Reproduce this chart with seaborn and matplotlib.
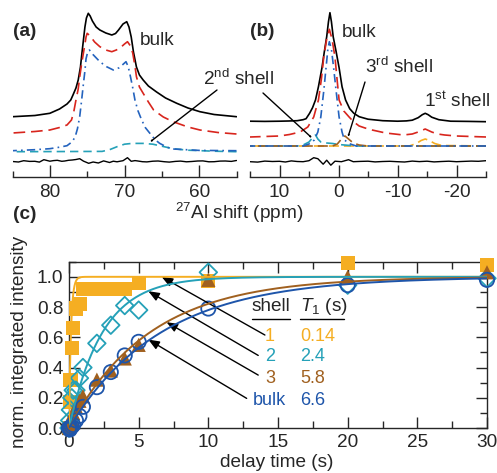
import numpy as np
import pandas as pd
import matplotlib
matplotlib.use("Agg")
import matplotlib.pyplot as plt
import seaborn as sns
from matplotlib.ticker import MultipleLocator

# ---------------- panel (a): 27Al spectra, heights above each trace baseline
a_exp_ppm = [85.0, 82.0, 80.0, 78.7, 77.7, 77.2, 76.9, 76.5, 76.2, 75.9, 75.7, 75.5,
             75.3, 75.1, 74.85, 74.6, 74.3, 73.8, 73.3, 72.5, 71.7, 71.2, 70.8, 70.2,
             69.7, 69.4, 69.1, 68.8, 68.4, 68.0, 67.5, 66.8, 65.7, 64.5, 63.0, 61.5,
             59.9, 58.0, 55.0]
a_exp = [0.3, 1.5, 3.7, 8, 13, 17, 22, 29, 37, 50, 64, 77,
         90, 99, 103.7, 101, 96, 90, 87, 84, 82, 83.5, 87, 93,
         95.3, 90, 80, 65, 50, 42, 37, 31, 25, 19, 13.7, 9,
         5.3, 2.5, 0.3]

a_fit_ppm = [85.0, 82.0, 80.0, 78.7, 77.7, 77.1, 76.8, 76.5, 76.2, 76.0, 75.75, 75.5,
             75.3, 75.15, 75.0, 74.6, 74.0, 73.3, 72.5, 71.7, 71.1, 70.6, 70.0, 69.6,
             69.2, 68.9, 68.6, 68.4, 68.0, 67.5, 66.8, 66.1, 64.8, 63.5, 61.5, 59.9,
             57.5, 55.0]
a_fit = [1, 2.5, 4, 6.5, 9, 14, 22, 34, 45, 57, 70, 81,
         90, 97, 100.7, 98, 92, 87.3, 84, 82.3, 84, 86, 90, 92.3,
         88, 81, 68, 57.3, 47, 40.7, 32, 24, 17, 12.3, 7, 4,
         1.5, 0]

a_bulk_ppm = [85.0, 82.0, 80.0, 78.7, 77.7, 77.0, 76.6, 76.3, 76.0, 75.75, 75.5, 75.3,
              75.15, 74.95, 74.7, 74.2, 73.3, 72.4, 71.5, 70.7, 70.1, 69.8, 69.5, 69.2,
              68.9, 68.6, 68.2, 67.7, 67.2, 66.6, 65.9, 65.3, 64.3, 63.5, 60.0, 55.0]
a_bulk = [0, 1, 2, 3.5, 5, 9, 14, 22, 34, 50, 67, 80,
          92, 98, 100.7, 96, 89, 84, 80.7, 83, 87, 89, 84, 74,
          63, 50.7, 40, 30.7, 23, 17.4, 11, 7.4, 3.5, 1.7, 0.3, 0]

a_shell2_ppm = [85.0, 73.0, 72.0, 71.0, 70.0, 69.0, 67.5, 66.2, 65.0, 63.5, 61.5, 58.0, 55.0]
a_shell2 = [0, 0.3, 2, 5, 7.5, 8.3, 8.3, 7.5, 5.5, 3, 1.5, 0.5, 0]

a_res_ppm = [85.0, 84.2, 83.5, 82.7, 82.0, 81.4, 80.8, 80.0, 79.5, 79.0, 78.4, 78.0,
             77.5, 77.0, 76.5, 76.0, 75.5, 74.8, 74.2, 73.5, 72.8, 72.0, 71.5, 71.0,
             70.5, 70.2, 69.6, 69.1, 68.6, 68.3, 67.6, 67.0, 66.2, 65.5, 64.7, 64.0,
             63.2, 62.5, 61.7, 61.0, 60.2, 59.5, 58.7, 58.0, 57.2, 56.5, 55.7, 55.0]
a_res = [0, -0.5, 0.8, 0.1, 0.2, -0.6, 1.8, 0.3, 0.9, 1.2, 0.2, 0.5,
         1.2, 1.5, 2.0, 2.8, 0.4, -1.8, -0.5, -1.5, 0.6, -1.0, 0.3, -0.3,
         0.4, 0.8, 3.8, 0.2, 0.9, 0.6, -0.2, -0.4, 0.3, 0.5, -0.2, -0.6,
         0.1, 0.4, -0.3, 0.0, 0.5, 0.6, -0.3, -0.2, 0.4, 0.5, 0.1, 1.0]

# ---------------- panel (b)
b_exp_ppm = [15.0, 12.5, 10.0, 8.5, 7.0, 6.0, 5.5, 4.9, 4.4, 3.9, 3.4, 2.8,
             2.4, 2.0, 1.7, 1.45, 1.2, 0.9, 0.4, -0.1, -0.6, -1.2, -1.9, -2.6,
             -3.5, -5.0, -7.5, -10.0, -11.5, -12.5, -13.5, -14.2, -14.7, -15.2, -15.8, -17.0,
             -19.0, -22.0, -25.0]
b_exp = [0.5, 0.3, 0.5, 0.7, 1, 2, 3, 8.4, 14, 21.7, 35, 54,
         70, 85, 100, 109, 100, 85, 70, 54, 35, 21.7, 13, 8.4,
         5, 2.5, 1, 0.5, 0.8, 1.5, 4, 7, 8.4, 7, 4.5, 2,
         0.5, 0.3, 0]

b_fit_ppm = [15.0, 10.0, 8.3, 6.5, 5.2, 4.2, 3.4, 2.9, 2.5, 2.0, 1.55, 1.1,
             0.6, 0.2, -0.1, -0.9, -1.8, -2.6, -3.5, -4.5, -5.7, -8.0, -11.0, -12.5,
             -13.5, -14.7, -15.8, -16.8, -18.0, -20.0, -25.0]
b_fit = [0, 1, 2.5, 5, 10, 20, 37, 58, 80, 98, 107.7, 98,
         80, 55, 37, 26, 20, 15, 11, 9, 7, 4, 2, 3,
         5, 8, 5, 3, 2, 1, 0]

b_bulk_ppm = [15.0, 6.0, 5.0, 4.1, 3.5, 3.0, 2.5, 2.1, 1.8, 1.55, 1.2, 0.84,
              0.4, -0.1, -0.6, -1.0, -2.0, -3.0, -25.0]
b_bulk = [0, 0, 2, 6, 14, 29, 55, 79, 97, 104.3, 97, 79,
          55, 29, 14, 6, 2, 0, 0]

b_shell2_ppm = [15.0, 7.0, 6.0, 5.0, 4.3, 3.9, 3.5, 3.0, 2.0, 1.0, 0.0, -1.0, -3.0, -25.0]
b_shell2 = [0, 0, 1, 4, 9, 11, 7, 4, 3, 2.5, 1.5, 1, 0, 0]

b_shell3_ppm = [15.0, 1.0, 0.2, -0.5, -1.1, -1.7, -2.5, -3.5, -5.0, -25.0]
b_shell3 = [0, 0, 2, 7, 10, 7, 3, 1, 0, 0]

b_shell1_ppm = [15.0, -12.0, -13.2, -14.0, -14.7, -15.4, -16.3, -17.5, -25.0]
b_shell1 = [0, 0, 2.5, 5.5, 7, 5.5, 2.5, 0.5, 0]

b_res_ppm = [15.0, 13.7, 12.5, 11.2, 10.0, 9.0, 8.0, 7.0, 6.0, 5.0, 4.2, 3.5,
             2.6, 2.0, 1.3, 0.6, -0.5, -1.7, -2.5, -3.7, -5.0, -6.2, -7.5, -8.7,
             -10.0, -11.2, -12.5, -13.7, -15.0, -16.2, -17.5, -18.7, -20.0, -21.2, -22.5, -23.7,
             -25.0]
b_res = [0, -0.4, 0.6, 0.2, 0.4, -0.3, 0.8, 0.2, 0, 1, 4, 3,
         -2.5, 1.5, -3.5, 0.5, 0, 2, 0, 0.3, 0.5, -0.2, 0.2, 0.4,
         0, -0.3, 0.6, 0.1, 0.5, -0.2, 0.2, 0.5, 0, 0.3, 0.6, 0.4,
         1]

# ---------------- panel (c): T1 recovery
delay = [0, 0.05, 0.1, 0.2, 0.3, 0.5, 0.75, 1, 2, 3, 4, 5, 10, 20, 30]
shell1_int = [0.0, 0.17, 0.32, 0.53, 0.66, 0.79, 0.82, 0.92, 0.92, 0.92, 0.92, 0.96, 0.97, 1.09, 1.08]
shell2_int = [0.0, 0.05, 0.12, 0.2, 0.25, 0.25, 0.33, 0.40, 0.56, 0.68, 0.81, 0.78, 1.03, 0.945, 0.99]
shell3_int = [0.0, 0.02, 0.04, 0.06, 0.1, 0.14, 0.18, 0.21, 0.32, 0.38, 0.46, 0.55, 0.98, 1.0, 1.03]
bulk_int = [0.0, -0.01, 0.0, 0.01, 0.02, 0.05, 0.08, 0.14, 0.27, 0.37, 0.48, 0.57, 0.79, 0.945, 0.98]

shell_names = ["1", "2", "3", "bulk"]
t1_values = [0.14, 2.4, 5.8, 6.6]
t1_labels = ["0.14", "2.4", "5.8", "6.6"]

# ---------------- style
W, H, DPI = 497, 473, 100
sns.set_theme(style="ticks")
plt.rcParams["font.family"] = ["Liberation Sans", "DejaVu Sans"]
plt.rcParams["mathtext.fontset"] = "custom"
plt.rcParams["mathtext.rm"] = "Liberation Sans"
plt.rcParams["mathtext.it"] = "Liberation Sans:italic"
plt.rcParams["axes.linewidth"] = 1.0
plt.rcParams["axes.unicode_minus"] = False

C_ORANGE = "#F5AE22"
C_CYAN = "#25A1B8"
C_BROWN = "#A0601F"
C_BLUE = "#1E55AA"
C_RED = "#D8251D"
C_DBLUE = "#2463BE"
FS = 13.7

fig = plt.figure(figsize=(W / DPI, H / DPI), dpi=DPI)


def frac_box(x0, y0, x1, y1):
    """pixel box (top-left origin) -> [left, bottom, width, height] fractions"""
    return [x0 / W, 1 - y1 / H, (x1 - x0) / W, (y1 - y0) / H]


def fp(x, y):
    return (x / W, 1 - y / H)


AX_BOTTOM = 176.7
ax_a = fig.add_axes(frac_box(12.5, 4, 236.5, AX_BOTTOM))
ax_b = fig.add_axes(frac_box(250, 4, 486, AX_BOTTOM))
ax_c = fig.add_axes(frac_box(69, 261.7, 487, 428))


def trace(ax, ppm, vals, base, color, lw=1.2, dashes=None):
    df = pd.DataFrame({"ppm": ppm, "y": np.asarray(vals, float) + base})
    sns.lineplot(data=df, x="ppm", y="y", ax=ax, color=color, lw=lw,
                 sort=True, estimator=None)
    line = ax.lines[-1]
    line.set_solid_joinstyle("round")
    if dashes is not None:
        line.set_dashes(dashes)
    return line


def spectrum_axes(ax, lo, hi):
    ax.set_xlim(lo, hi)
    ax.set_ylim(0, AX_BOTTOM - 4)
    for s in ("left", "right", "top"):
        ax.spines[s].set_visible(False)
    ax.set_yticks([])
    ax.xaxis.set_major_locator(MultipleLocator(10))
    ax.xaxis.set_minor_locator(MultipleLocator(5))
    ax.tick_params(axis="x", which="major", direction="in", length=8.5, width=1.0,
                   labelsize=FS, pad=5)
    ax.tick_params(axis="x", which="minor", direction="in", length=4.5, width=1.0)
    ax.set_xlabel("")
    ax.set_ylabel("")
    ax.patch.set_alpha(0)


# baselines (pixels above the ppm axis)
# panel (a)
trace(ax_a, a_exp_ppm, a_exp, AX_BOTTOM - 117, "black")
trace(ax_a, a_fit_ppm, a_fit, AX_BOTTOM - 134, C_RED, dashes=(7, 3.5))
trace(ax_a, a_shell2_ppm, a_shell2, AX_BOTTOM - 151.7, C_CYAN, dashes=(5, 3))
trace(ax_a, a_bulk_ppm, a_bulk, AX_BOTTOM - 150.7, C_DBLUE, dashes=(5, 2.5, 1, 2.5))
trace(ax_a, a_res_ppm, a_res, AX_BOTTOM - 161.5, "black", lw=1.0)
spectrum_axes(ax_a, 85, 55)

# panel (b)
trace(ax_b, b_exp_ppm, b_exp, AX_BOTTOM - 121.7, "black")
trace(ax_b, b_fit_ppm, b_fit, AX_BOTTOM - 137, C_RED, dashes=(7, 3.5))
trace(ax_b, b_shell1_ppm, b_shell1, AX_BOTTOM - 146, C_ORANGE, dashes=(6, 3))
trace(ax_b, b_shell2_ppm, b_shell2, AX_BOTTOM - 146, C_CYAN, dashes=(6, 3))
trace(ax_b, b_shell3_ppm, b_shell3, AX_BOTTOM - 146, C_BROWN, dashes=(6, 3))
trace(ax_b, b_bulk_ppm, b_bulk, AX_BOTTOM - 146, C_DBLUE, dashes=(5, 2.5, 1, 2.5))
trace(ax_b, b_res_ppm, b_res, AX_BOTTOM - 161.7, "black", lw=1.0)
spectrum_axes(ax_b, 15, -25)

# labels for the spectra
fig.text(*fp(13, 36), "(a)", fontsize=FS, fontweight="bold", va="baseline")
fig.text(*fp(250, 36), "(b)", fontsize=FS, fontweight="bold", va="baseline")
fig.text(*fp(13, 219), "(c)", fontsize=FS, fontweight="bold", va="baseline")
fig.text(*fp(140, 45), "bulk", fontsize=FS, va="baseline")
fig.text(*fp(342, 36.7), "bulk", fontsize=FS, va="baseline")
fig.text(*fp(203, 85), "2$^{\\rm nd}$ shell", fontsize=FS, va="baseline")
fig.text(*fp(365, 73.3), "3$^{\\rm rd}$ shell", fontsize=FS, va="baseline")
fig.text(*fp(424, 106.7), "1$^{\\rm st}$ shell", fontsize=FS, va="baseline")
fig.text(*fp(239, 218.5), "$^{27}$Al shift (ppm)", fontsize=FS, va="baseline", ha="center")

arrow_kw = dict(arrowstyle="-|>,head_length=0.55,head_width=0.22", color="black",
                lw=1.0, shrinkA=0, shrinkB=0)
for tail, head in [((217, 90), (150, 142)), ((263, 93), (312, 138)), ((365, 82), (348, 137))]:
    fig.add_artist(matplotlib.patches.FancyArrowPatch(
        fp(*tail), fp(*head), transform=fig.transFigure, **arrow_kw))

# ---------------- panel (c)
markers = ["s", "D", "^", "o"]
colors = [C_ORANGE, C_CYAN, C_BROWN, C_BLUE]
series = [shell1_int, shell2_int, shell3_int, bulk_int]
sizes = [105, 80, 105, 105]
for vals, mk, col, sz in zip(series, markers, colors, sizes):
    df = pd.DataFrame({"t": delay, "I": vals})
    filled = mk in ("s", "^")
    sns.scatterplot(data=df, x="t", y="I", ax=ax_c, marker=mk, s=sz,
                    color=col if filled else "none",
                    edgecolor=col if not filled else "none",
                    linewidth=1.3, clip_on=False, zorder=3)

t_grid = np.linspace(0, 30, 1200)
for T1, col in zip(t1_values, colors):
    df = pd.DataFrame({"t": t_grid, "I": 1 - np.exp(-t_grid / T1)})
    sns.lineplot(data=df, x="t", y="I", ax=ax_c, color=col, lw=1.4, zorder=4)

ax_c.set_xlim(0, 30)
ax_c.set_ylim(0, 1.1)
ax_c.xaxis.set_major_locator(MultipleLocator(5))
ax_c.xaxis.set_minor_locator(MultipleLocator(2.5))
ax_c.yaxis.set_major_locator(MultipleLocator(0.2))
ax_c.yaxis.set_minor_locator(MultipleLocator(0.1))
ax_c.yaxis.set_major_formatter(matplotlib.ticker.FormatStrFormatter("%.1f"))
ax_c.tick_params(which="both", direction="in", top=True, right=True, width=1.0,
                 labelsize=FS, pad=4)
ax_c.tick_params(which="major", length=8)
ax_c.tick_params(which="minor", length=5)
ax_c.set_xlabel("")
ax_c.set_ylabel("")
fig.text(*fp(277, 467), "delay time (s)", fontsize=FS, ha="center", va="baseline")
fig.text(*fp(20, 342), "norm. integrated intensity", fontsize=FS, ha="center",
         va="center", rotation=90)

# shell / T1 table with arrows to the curves
ax_c.text(14.49, 0.775, "shell", fontsize=FS, ha="center", va="baseline")
ax_c.text(16.57, 0.775, "$T_{\\rm 1}$ (s)", fontsize=FS, ha="left", va="baseline")
ax_c.plot([13.1, 15.85], [0.72, 0.72], color="black", lw=1.0)
ax_c.plot([16.57, 19.73], [0.72, 0.72], color="black", lw=1.0)
row_y = [0.575, 0.44, 0.30, 0.155]
for name, lab, col, ry in zip(shell_names, t1_labels, colors, row_y):
    ax_c.text(14.42, ry, name, fontsize=FS - 0.7, color=col, ha="center", va="baseline")
    ax_c.text(16.57, ry, lab, fontsize=FS - 0.7, color=col, ha="left", va="baseline")

arrow_c = [((14.06, 0.615), (6.65, 1.0)),
           ((13.58, 0.48), (5.69, 0.905)),
           ((13.58, 0.35), (7.0, 0.70)),
           ((12.75, 0.196), (5.69, 0.585))]
for tail, head in arrow_c:
    ax_c.annotate("", xy=head, xytext=tail,
                  arrowprops=dict(arrowstyle="-|>,head_length=0.55,head_width=0.22",
                                  color="black", lw=1.0, shrinkA=0, shrinkB=0))

fig.savefig("out.png", dpi=DPI)
